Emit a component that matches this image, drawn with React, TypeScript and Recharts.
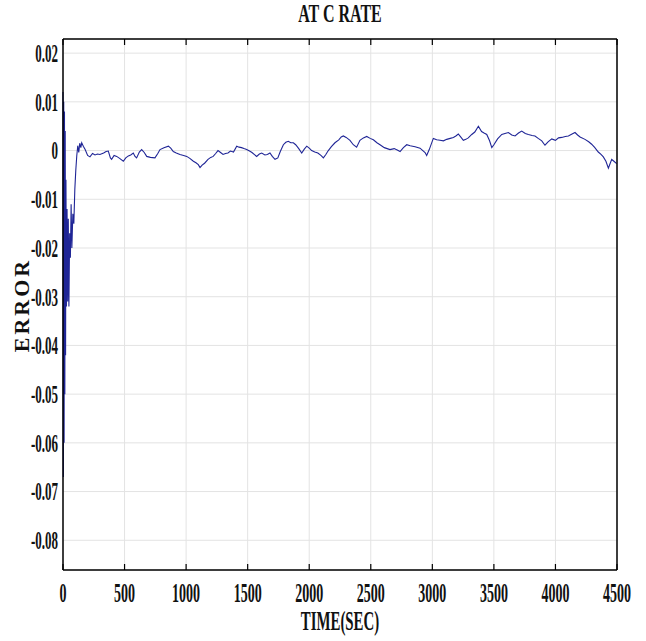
import React from "react";
import { LineChart, Line, XAxis, YAxis, CartesianGrid } from "recharts";

// time axis (sec) and estimation error
const timeSec = [
  0, 3, 6, 9, 12, 15, 18, 21, 24, 28, 33, 38, 43, 48, 54, 60, 66, 72, 80, 88, 96, 104, 112, 120, 128, 136, 145, 152,
  165, 180, 200, 219, 240, 260, 280, 300, 330, 350, 368, 385, 395, 415, 436, 460, 490, 510, 531, 550, 571, 585, 598,
  620, 639, 660, 680, 710, 747, 770, 788, 820, 856, 875, 896, 920, 950, 980, 1005, 1030, 1059, 1080, 1099, 1113, 1130,
  1150, 1178, 1200, 1220, 1240, 1259, 1280, 1300, 1320, 1340, 1360, 1385, 1411, 1430, 1450, 1470, 1492, 1515, 1535,
  1573, 1595, 1614, 1640, 1660, 1681, 1700, 1722, 1745, 1765, 1790, 1810, 1830, 1850, 1871, 1890, 1915, 1939, 1960,
  1980, 2000, 2020, 2045, 2070, 2095, 2115, 2135, 2155, 2180, 2209, 2240, 2260, 2277, 2300, 2331, 2358, 2385, 2412,
  2440, 2467, 2495, 2521, 2550, 2575, 2610, 2656, 2690, 2715, 2738, 2765, 2792, 2820, 2860, 2900, 2941, 2954, 2975,
  3008, 3035, 3062, 3090, 3117, 3145, 3171, 3191, 3211, 3230, 3252, 3272, 3292, 3320, 3345, 3374, 3400, 3420, 3442,
  3465, 3483, 3500, 3530, 3564, 3590, 3618, 3645, 3672, 3700, 3726, 3755, 3780, 3810, 3834, 3860, 3889, 3915, 3940,
  3970, 4000, 4025, 4051, 4080, 4105, 4135, 4159, 4180, 4200, 4240, 4270, 4294, 4320, 4348, 4370, 4389, 4410, 4430,
  4445, 4457, 4475, 4497,
];

const errorVal = [
  0.012, -0.067, 0.01, -0.06, 0.008, -0.05, 0.004, -0.042, -0.006, -0.032, -0.012, -0.031, -0.014, -0.032, -0.017,
  -0.022, -0.011, -0.02, -0.013, -0.015, -0.008, -0.004, -0.001, 0.001, -0.0004, 0.0015, 0.0006, 0.0016,
  0.0009, 0.0002, -0.001, -0.0013, -0.0006, -0.0009, -0.0007, -0.0008, -0.0005, -0.0002, -0.0001, -0.0015, -0.0018,
  -0.001, -0.0012, -0.0016, -0.0022, -0.0015, -0.0011, -0.0009, -0.0005, -0.0012, -0.0015,
  -0.0003, 0.0002, -0.0004, -0.0012, -0.0014, -0.0015, -0.0006, 0.0002, 0.0006, 0.0009, 0.0005, -0.0002, -0.0005,
  -0.0008, -0.001, -0.0012, -0.0016, -0.0022, -0.0025, -0.0029, -0.0035, -0.003,
  -0.0026, -0.0018, -0.0014, -0.0012, -0.0006, 0.0, -0.0004, -0.0008, -0.0006, -0.0005, -0.0001, -0.0003, 0.0009,
  0.0007, 0.0006, 0.0004, 0.0002, -0.0001, -0.0004,
  -0.0012, -0.0007, -0.0005, -0.0009, -0.0008, -0.0005, -0.0012, -0.0018, -0.0015, -0.0002, 0.0012, 0.0017, 0.0019,
  0.0016, 0.0016, 0.0012, 0.0004, -0.0005, 0.0003,
  0.0009, 0.0005, 0.0, -0.0003, -0.0005, -0.001, -0.0015, -0.0008, 0.0, 0.0008, 0.0016, 0.0022, 0.0028, 0.003, 0.0027,
  0.0021, 0.0012, 0.0007, 0.0021,
  0.0026, 0.0029, 0.0025, 0.0022, 0.0016, 0.0012, 0.0006, 0.0002, 0.0004, 0.0001, -0.0002, 0.0006, 0.0012, 0.001,
  0.0008, 0.0005, -0.0004, -0.001, 0.0002,
  0.0025, 0.0022, 0.0021, 0.002, 0.0023, 0.0025, 0.0027, 0.003, 0.0034, 0.0028, 0.0021, 0.0023, 0.0026, 0.0033,
  0.0038, 0.005, 0.0039, 0.0036, 0.0033,
  0.002, 0.0006, 0.0012, 0.0024, 0.0033, 0.0035, 0.0037, 0.0032, 0.003, 0.0036, 0.004, 0.0035, 0.0033, 0.0031, 0.003,
  0.0025, 0.002, 0.0011, 0.0018,
  0.0024, 0.0021, 0.0026, 0.0027, 0.0029, 0.003, 0.0034, 0.0037, 0.0032, 0.0028, 0.0023, 0.0018, 0.0013, 0.0006,
  -0.0003, -0.0008, -0.0013, -0.0022, -0.0036,
  -0.0026, -0.0018, -0.0022, -0.0027,
];

const xTicks = [0, 500, 1000, 1500, 2000, 2500, 3000, 3500, 4000, 4500];
const yTicks = [-0.08, -0.07, -0.06, -0.05, -0.04, -0.03, -0.02, -0.01, 0, 0.01, 0.02];

const data = timeSec.map((t, i) => ({ t, err: errorVal[i] }));

const serif = '"Liberation Serif", "Times New Roman", serif';
const squeeze = 0.5;

const fmtY = (v: number) => (Math.abs(v) < 1e-9 ? "0" : v.toFixed(2));

const XTick = ({ x, y, payload }: any) => (
  <text
    transform={`translate(${x},${y}) scale(${squeeze},1)`}
    textAnchor="middle"
    dominantBaseline="central"
    fontFamily={serif}
    fontWeight="bold"
    fontSize={28}
    fill="#111"
  >
    {payload.value}
  </text>
);

const YTick = ({ x, y, payload }: any) => (
  <text
    transform={`translate(${x},${y}) scale(${squeeze},1)`}
    textAnchor="end"
    dominantBaseline="central"
    fontFamily={serif}
    fontWeight="bold"
    fontSize={26}
    fill="#111"
  >
    {fmtY(payload.value)}
  </text>
);

const NoLabel = () => <g />;

const axisLine = { stroke: "#000", strokeWidth: 1.5 };
const tickLine = { stroke: "#000", strokeWidth: 1.2 };

export default function App() {
  return (
    <div style={{ position: "absolute", left: 0, top: 0, width: 646, height: 641, background: "#fff" }}>
      <div
        style={{
          position: "absolute",
          left: 0,
          width: 680,
          top: 1,
          textAlign: "center",
          fontFamily: serif,
          fontWeight: "bold",
          fontSize: 25,
          lineHeight: "26px",
          color: "#111",
          transform: `scale(0.64,1)`,
          transformOrigin: "340px 0",
        }}
      >
        AT C RATE
      </div>
      <div
        style={{
          position: "absolute",
          left: 22,
          top: 305,
          fontFamily: serif,
          fontWeight: "bold",
          fontSize: 22,
          letterSpacing: 3,
          color: "#111",
          whiteSpace: "nowrap",
          transform: "translate(-50%,-50%) rotate(-90deg)",
        }}
      >
        ERROR
      </div>
      <div
        style={{
          position: "absolute",
          left: 0,
          width: 680,
          top: 606,
          textAlign: "center",
          fontFamily: serif,
          fontWeight: "bold",
          fontSize: 28,
          lineHeight: "30px",
          color: "#111",
          transform: "scale(0.53,1)",
          transformOrigin: "340px 0",
        }}
      >
        TIME(SEC)
      </div>
      <div style={{ position: "absolute", left: 0, top: 0 }}>
        <LineChart width={646} height={641} data={data} margin={{ top: 39, right: 29, bottom: 0, left: 0 }}>
          <CartesianGrid stroke="#e3e3e3" strokeWidth={1} />
          <XAxis
            dataKey="t"
            type="number"
            domain={[0, 4500]}
            ticks={xTicks}
            interval={0}
            height={71}
            tickSize={0}
            tickMargin={23}
            tickLine={false}
            axisLine={axisLine}
            tick={<XTick />}
          />
          <YAxis
            type="number"
            domain={[-0.0861, 0.0229]}
            ticks={yTicks}
            interval={0}
            width={63}
            tickSize={0}
            tickMargin={5}
            tickLine={false}
            axisLine={axisLine}
            tick={<YTick />}
          />
          <XAxis xAxisId="bt" type="number" dataKey="t" domain={[0, 4500]} ticks={xTicks} interval={0} mirror
            orientation="bottom" tickSize={6} tickLine={tickLine} axisLine={false} tick={NoLabel} />
          <XAxis xAxisId="tp" type="number" dataKey="t" domain={[0, 4500]} ticks={xTicks} interval={0} mirror
            orientation="top" tickSize={6} tickLine={tickLine} axisLine={axisLine} tick={NoLabel} />
          <YAxis yAxisId="lf" type="number" domain={[-0.0861, 0.0229]} ticks={yTicks} interval={0} mirror
            orientation="left" tickSize={6} tickLine={tickLine} axisLine={false} tick={NoLabel} />
          <YAxis yAxisId="rt" type="number" domain={[-0.0861, 0.0229]} ticks={yTicks} interval={0} mirror
            orientation="right" tickSize={6} tickLine={tickLine} axisLine={axisLine} tick={NoLabel} />
          <Line
            type="linear"
            dataKey="err"
            stroke="#1f2596"
            strokeWidth={1.1}
            dot={false}
            isAnimationActive={false}
          />
        </LineChart>
      </div>
    </div>
  );
}
